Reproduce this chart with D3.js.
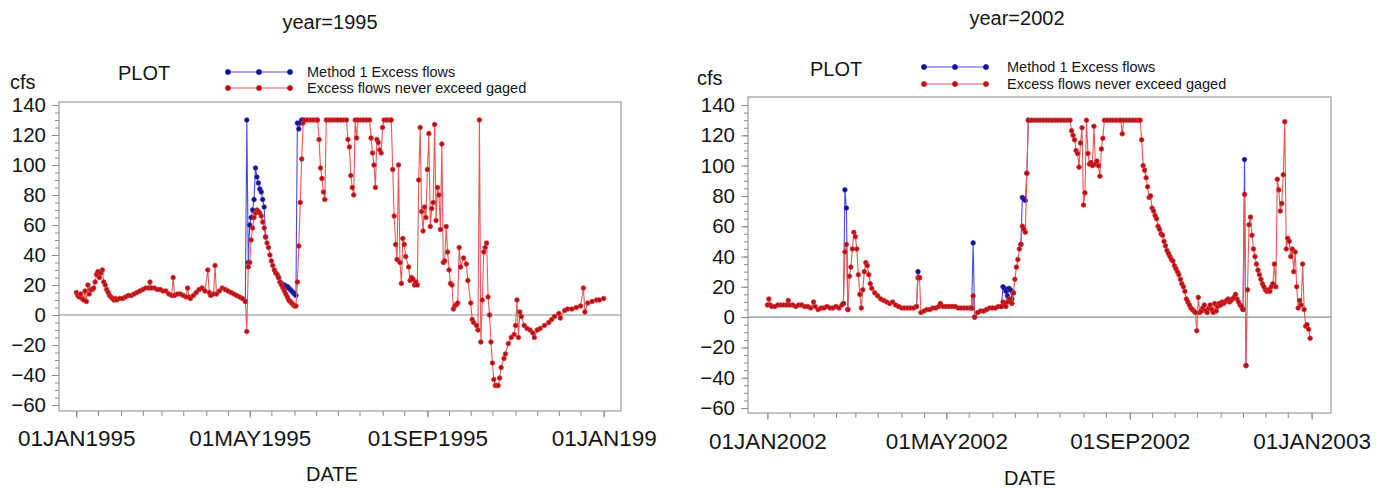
<!DOCTYPE html>
<html><head><meta charset="utf-8">
<script src="https://cdn.jsdelivr.net/npm/d3@7"></script>
<style>
body{margin:0;background:#fff}
svg{display:block}
text{font-family:"Liberation Sans",Arial,sans-serif;fill:#151515}
</style>
</head><body>
<svg id="chart" width="1385" height="490"></svg>
<script>
// ---------------- data (day of year, cfs) ----------------
const seriesNames = ["Method 1 Excess flows", "Excess flows never exceed gaged"];
const yTicks = [-60,-40,-20,0,20,40,60,80,100,120,140];
const yMinorTicks = d3.range(-60, 141, 5);
const xLabelDates1995 = ["1995-01-01","1995-05-01","1995-09-01","1996-01-01"];
const xLabels1995 = ["01JAN1995","01MAY1995","01SEP1995","01JAN199"];
const xLabelDates2002 = ["2002-01-01","2002-05-01","2002-09-01","2003-01-01"];
const xLabels2002 = ["01JAN2002","01MAY2002","01SEP2002","01JAN2003"];

const gaged1995 = [[0,15],[1,13],[2,12],[3,14],[4,11],[5,10],[6,16],[7,9],[8,20],[9,14],[10,17],[11,17],[12,18],[13,22],[14,27],[15,29],[16,25],[17,28],[18,30],[19,22],[20,20],[21,17],[22,15],[23,13],[24,12],[25,11],[26,10],[27,11],[28,10],[30,11],[32,11],[34,12],[36,13],[38,13],[40,14],[42,15],[44,16],[46,17],[48,18],[50,18],[51,22],[52,18],[54,18],[56,17],[58,17],[60,16],[62,16],[64,14],[66,13],[67,25],[68,13],[70,14],[72,14],[74,13],[76,12],[77,18],[78,12],[79,11],[81,13],[83,15],[85,17],[87,18],[89,16],[91,30],[92,15],[93,13],[95,14],[96,33],[97,14],[99,16],[101,18],[103,17],[105,16],[107,15],[109,14],[111,13],[113,12],[115,11],[117,9],[118,-11],[119,32],[120,35],[121,50],[122,58],[123,65],[124,68],[125,70],[126,69],[127,68],[128,66],[129,62],[130,58],[131,52],[132,48],[133,45],[134,40],[135,36],[136,33],[137,30],[138,28],[139,27],[140,25],[141,22],[142,20],[143,18],[144,16],[145,14],[146,12],[147,10],[148,9],[149,8],[150,7],[151,6],[152,6],[153,22],[154,46],[155,75],[156,104],[157,128],[158,130],[160,130],[162,130],[164,130],[166,130],[167,130],[168,117],[169,98],[170,91],[171,82],[172,77],[173,130],[175,130],[177,130],[179,130],[181,130],[183,130],[185,130],[187,130],[188,117],[189,112],[190,93],[191,85],[192,80],[193,130],[194,118],[195,130],[197,130],[199,130],[201,130],[203,130],[204,118],[205,108],[206,100],[207,85],[208,117],[209,115],[210,110],[211,108],[212,125],[213,130],[215,130],[217,130],[218,130],[219,97],[220,66],[221,47],[222,37],[223,100],[224,35],[225,21],[226,51],[227,47],[228,39],[230,32],[231,23],[232,25],[233,24],[234,20],[235,22],[236,20],[237,90],[238,125],[239,69],[240,56],[241,72],[242,65],[243,97],[244,121],[245,59],[246,71],[247,75],[248,127],[249,63],[250,85],[251,80],[252,57],[253,114],[254,35],[255,36],[256,59],[257,42],[258,30],[259,21],[260,20],[261,4],[262,6],[263,7],[264,8],[265,45],[266,32],[268,38],[270,34],[271,23],[273,8],[274,-3],[275,-5],[277,-7],[278,-10],[279,130],[280,-18],[281,10],[282,42],[283,45],[284,48],[285,12],[286,0],[287,-18],[288,-32],[289,-43],[290,-47],[291,-47],[292,-47],[293,-42],[294,-35],[296,-29],[297,-26],[299,-19],[301,-15],[303,-13],[304,-7],[305,10],[306,-15],[307,2],[308,-1],[310,-7],[312,-9],[314,-10],[316,-12],[317,-15],[319,-10],[321,-9],[324,-7],[327,-5],[329,-3],[331,-1],[334,1],[335,-2],[338,3],[340,4],[343,4],[346,5],[349,6],[351,18],[352,2],[354,8],[357,9],[360,10],[362,10],[365,11]];

const method1995 = [[117,9],[118,130],[119,35],[120,60],[121,65],[122,70],[123,77],[124,98],[125,92],[126,88],[127,84],[128,82],[129,77],[130,72],[131,52],null,[140,25],[141,22],[142,21],[143,20],[144,20],[145,19],[146,19],[147,18],[148,17],[149,16],[150,15],[151,14],[152,13],[153,128],[154,124],[155,128],[156,130],[157,130]];

const gaged2002 = [[0,8],[1,12],[2,8],[3,7],[5,7],[7,8],[9,8],[11,8],[13,8],[14,11],[15,8],[17,8],[19,7],[21,8],[23,8],[25,7],[27,7],[29,6],[31,10],[32,7],[34,5],[36,6],[38,6],[40,7],[42,6],[44,6],[46,7],[48,6],[50,8],[51,9],[52,43],[53,48],[54,5],[55,27],[56,33],[57,45],[58,56],[59,53],[60,45],[61,28],[62,15],[63,6],[64,18],[65,30],[66,36],[67,34],[68,28],[69,22],[70,19],[72,16],[74,14],[76,12],[78,11],[80,10],[82,9],[84,10],[86,8],[88,7],[90,6],[92,6],[94,6],[96,6],[98,6],[100,7],[101,26],[102,26],[103,3],[105,4],[107,5],[109,5],[111,6],[113,6],[115,7],[116,9],[118,7],[120,7],[122,7],[124,7],[126,7],[128,6],[130,6],[132,6],[134,6],[136,6],[137,6],[138,14],[139,0],[141,3],[143,4],[145,4],[147,5],[149,6],[151,6],[153,6],[155,7],[157,7],[158,10],[159,8],[160,7],[161,10],[162,12],[163,10],[164,9],[165,16],[166,25],[167,33],[168,38],[169,45],[170,48],[171,60],[172,58],[173,56],[174,95],[175,130],[177,130],[179,130],[181,130],[183,130],[185,130],[187,130],[189,130],[191,130],[193,130],[195,130],[197,130],[199,130],[201,130],[203,130],[204,123],[205,120],[206,117],[207,110],[208,108],[209,99],[210,115],[211,125],[212,74],[213,82],[214,130],[215,108],[216,101],[217,102],[218,100],[219,126],[220,101],[221,103],[222,100],[223,93],[224,111],[225,118],[226,130],[228,130],[230,130],[232,130],[234,130],[236,130],[237,130],[238,121],[239,130],[241,130],[243,130],[245,130],[247,130],[249,130],[250,130],[251,117],[252,100],[253,97],[254,92],[255,86],[256,79],[257,80],[258,72],[259,70],[260,67],[261,65],[262,60],[263,58],[264,55],[265,54],[266,50],[267,47],[268,44],[269,42],[270,40],[271,38],[272,37],[273,34],[274,32],[275,30],[276,28],[277,25],[278,22],[279,20],[280,17],[281,12],[282,10],[283,8],[284,6],[285,5],[286,4],[287,3],[288,-9],[289,13],[290,3],[291,4],[292,6],[293,8],[294,4],[295,3],[296,6],[297,8],[298,5],[299,3],[300,9],[301,4],[302,7],[303,9],[304,8],[305,10],[306,9],[307,10],[308,11],[309,12],[310,10],[311,11],[312,12],[313,13],[314,15],[315,12],[316,10],[317,8],[318,7],[319,5],[320,81],[321,-32],[322,18],[323,61],[324,66],[325,54],[326,45],[327,40],[328,35],[329,31],[330,28],[331,25],[332,22],[333,20],[334,18],[335,17],[336,18],[337,17],[338,20],[339,22],[340,35],[341,20],[342,91],[343,84],[344,70],[345,75],[346,94],[347,129],[348,45],[349,52],[350,50],[351,40],[352,45],[353,30],[354,43],[355,20],[356,6],[357,11],[358,8],[359,35],[360,5],[361,-6],[362,-5],[363,-8],[364,-14]];

const method2002 = [[51,9],[52,84],[53,72],[54,5],null,[100,7],[101,30],[102,26],null,[137,6],[138,49],[139,0],null,[157,7],[158,20],[159,19],[160,17],[161,14],[162,19],[163,18],[164,12],[165,16],null,[170,48],[171,79],[172,78],[173,77],[174,95],[175,130],null,[319,5],[320,104],[321,-32]];

// ---------------- layout ----------------
const panels = [
  {year:1995, title:"year=1995", gaged:gaged1995, method:method1995,
   labelDates:xLabelDates1995, labels:xLabels1995,
   frame:{l:59,r:621,t:102,b:411}, xDomain:[new Date(1994,11,20), new Date(1996,0,13)], yDomain:[-64,142],
   titleX:330, titleY:29, plotX:118, plotY:80, cfsX:10, cfsY:89,
   legX:228, legStep:31, legY:[72,88], legTextX:307,
   xLabY:446, dateY:481, dateX:332},
  {year:2002, title:"year=2002", gaged:gaged2002, method:method2002,
   labelDates:xLabelDates2002, labels:xLabels2002,
   frame:{l:748,r:1331,t:97,b:413}, xDomain:[new Date(2001,11,19), new Date(2003,0,14)], yDomain:[-63.3,145.3],
   titleX:1017, titleY:25, plotX:810, plotY:76, cfsX:697, cfsY:85,
   legX:924, legStep:31, legY:[67,84], legTextX:1007,
   xLabY:449, dateY:485, dateX:1030}
];

const colors = {blueLine:"#4a4ae6", blueDot:"#14147a", blueDotStroke:"#2a2ad0",
                redLine:"#e85a5a", redDot:"#a8141c", redDotStroke:"#ee2a2a"};

const svg = d3.select("#chart");

function drawPanel(p) {
  const g = svg.append("g");
  const f = p.frame;
  const x = d3.scaleTime().domain(p.xDomain).range([f.l, f.r]);
  const y = d3.scaleLinear().domain(p.yDomain).range([f.b, f.t]);
  const toDate = d => d3.timeDay.offset(new Date(p.year,0,1), d);

  // titles
  g.append("text").attr("x",p.titleX).attr("y",p.titleY).attr("text-anchor","middle")
    .style("font-size","20px").text(p.title);
  g.append("text").attr("x",p.plotX).attr("y",p.plotY).style("font-size","20px").text("PLOT");
  g.append("text").attr("x",p.cfsX).attr("y",p.cfsY).style("font-size","20px").text("cfs");

  // legend
  const legCols = [[colors.blueLine,colors.blueDot,colors.blueDotStroke],[colors.redLine,colors.redDot,colors.redDotStroke]];
  seriesNames.forEach((name,i) => {
    const ly = p.legY[i];
    g.append("line").attr("x1",p.legX).attr("x2",p.legX+2*p.legStep).attr("y1",ly).attr("y2",ly)
      .attr("stroke",legCols[i][0]).attr("stroke-width",1.2);
    [0,1,2].forEach(k => g.append("circle").attr("cx",p.legX+k*p.legStep).attr("cy",ly).attr("r",2.6)
      .attr("fill",legCols[i][1]).attr("stroke",legCols[i][2]).attr("stroke-width",0.8));
    g.append("text").attr("x",p.legTextX).attr("y",ly+5).style("font-size","14.5px").text(name);
  });

  // frame
  g.append("rect").attr("x",f.l).attr("y",f.t).attr("width",f.r-f.l).attr("height",f.b-f.t)
    .attr("fill","none").attr("stroke","#9c9c9c").attr("stroke-width",1.2);

  // y axis
  const yMinor = g.append("g").attr("transform",`translate(${f.l},0)`)
    .call(d3.axisLeft(y).tickValues(yMinorTicks).tickSize(4).tickFormat(""));
  const yMajor = g.append("g").attr("transform",`translate(${f.l},0)`)
    .call(d3.axisLeft(y).tickValues(yTicks).tickSize(7).tickPadding(6).tickFormat(d3.format("d")));
  [yMinor,yMajor].forEach(a => { a.select(".domain").remove(); a.selectAll("line").attr("stroke","#8c8c8c"); });
  yMajor.selectAll("text").style("font-size","20.5px").attr("fill","#151515").attr("font-family",null);

  // x axis
  const months = d3.timeMonth.range(new Date(p.year,0,1), new Date(p.year+1,0,2));
  const halfTicks = [];
  months.forEach(m => { halfTicks.push(m); if (m.getFullYear()===p.year) halfTicks.push(d3.timeDay.offset(m,15)); });
  const xMinor = g.append("g").attr("transform",`translate(0,${f.b})`)
    .call(d3.axisBottom(x).tickValues(halfTicks).tickSize(5).tickFormat(""));
  const parse = d3.timeParse("%Y-%m-%d");
  const lblDates = p.labelDates.map(parse);
  const xMajor = g.append("g").attr("transform",`translate(0,${f.b})`)
    .call(d3.axisBottom(x).tickValues(lblDates).tickSize(7).tickPadding(0)
      .tickFormat((d,i) => p.labels[i]));
  [xMinor,xMajor].forEach(a => { a.select(".domain").remove(); a.selectAll("line").attr("stroke","#8c8c8c"); });
  xMajor.selectAll("text").style("font-size","22.5px").attr("fill","#151515").attr("font-family",null)
    .attr("dy",null).attr("y",p.xLabY - f.b);

  g.append("text").attr("x",p.dateX).attr("y",p.dateY).attr("text-anchor","middle")
    .style("font-size","20px").text("DATE");

  // zero reference line
  g.append("line").attr("x1",f.l).attr("x2",f.r).attr("y1",y(0)).attr("y2",y(0))
    .attr("stroke","#8e8e8e").attr("stroke-width",1.2);

  const line = d3.line().defined(d => d !== null).x(d => x(toDate(d[0]))).y(d => y(d[1]));

  // Method 1 (blue) below
  g.append("path").datum(p.method).attr("d",line).attr("fill","none")
    .attr("stroke",colors.blueLine).attr("stroke-width",1.1);
  g.selectAll(null).data(p.method.filter(d => d !== null)).enter().append("circle")
    .attr("cx",d => x(toDate(d[0]))).attr("cy",d => y(d[1])).attr("r",2.3)
    .attr("fill",colors.blueDot).attr("stroke",colors.blueDotStroke).attr("stroke-width",0.7);

  // gaged-limited (red) on top
  g.append("path").datum(p.gaged).attr("d",line).attr("fill","none")
    .attr("stroke",colors.redLine).attr("stroke-width",1.1);
  g.selectAll(null).data(p.gaged).enter().append("circle")
    .attr("cx",d => x(toDate(d[0]))).attr("cy",d => y(d[1])).attr("r",2.3)
    .attr("fill",colors.redDot).attr("stroke",colors.redDotStroke).attr("stroke-width",0.8);
}

panels.forEach(drawPanel);
</script>
</body></html>
